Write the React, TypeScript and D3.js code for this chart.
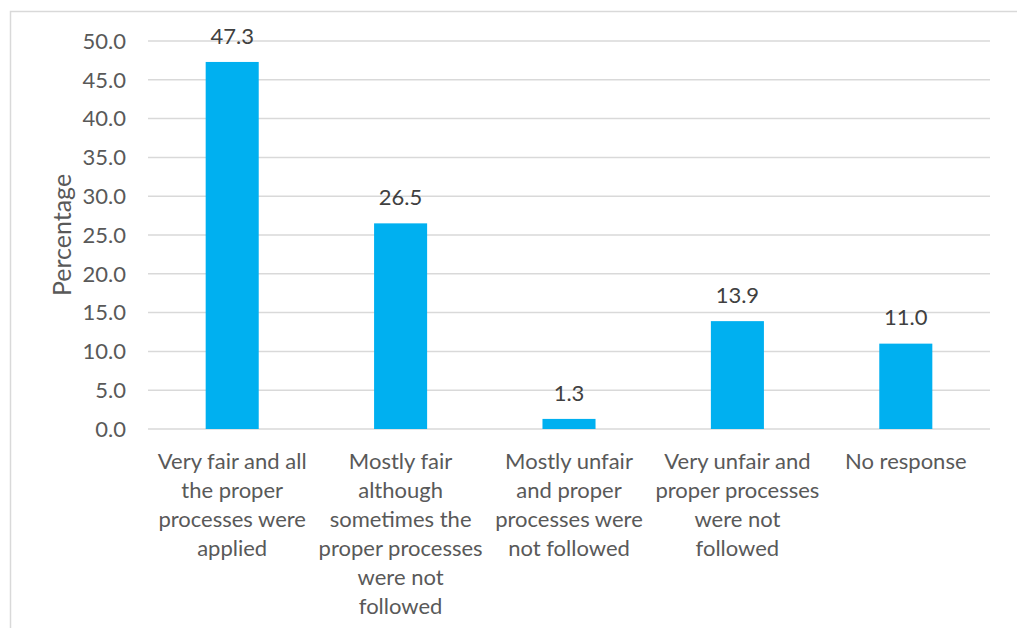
import React from "react";
import * as d3 from "d3";

const categories = [
  "Very fair and all the proper processes were applied",
  "Mostly fair although sometimes the proper processes were not followed",
  "Mostly unfair and proper processes were not followed",
  "Very unfair and proper processes were not followed",
  "No response",
];
const categoryLines = [
  ["Very fair and all", "the proper", "processes were", "applied"],
  ["Mostly fair", "although", "sometimes the", "proper processes", "were not", "followed"],
  ["Mostly unfair", "and proper", "processes were", "not followed"],
  ["Very unfair and", "proper processes", "were not", "followed"],
  ["No response"],
];
const values = [47.3, 26.5, 1.3, 13.9, 11.0];
const yTicks = [0, 5, 10, 15, 20, 25, 30, 35, 40, 45, 50];
const yTitle = "Percentage";

const W = 1017;
const H = 628;
const FONT = "Lato, 'Open Sans', sans-serif";
const FS = 22;

export default function App() {
  const x = d3.scaleBand<string>().domain(categories).range([148, 990]).paddingInner(0.685).paddingOuter(0.3425);
  const y = d3.scaleLinear().domain([0, 50]).range([429, 41]);
  const bw = x.bandwidth();
  return (
    <svg width={W} height={H} style={{ position: "absolute", left: 0, top: 0, background: "#fff" }}>
      <rect x={10.5} y={11.5} width={1100} height={700} fill="#fff" stroke="#D9D9D9" strokeWidth={1.5} />
      {yTicks.map((t) => (
        <g key={t}>
          <line x1={148} x2={990} y1={y(t)} y2={y(t)} stroke="#D9D9D9" strokeWidth={1.5} />
          <text x={126} y={y(t)} dy="0.35em" textAnchor="end" fontFamily={FONT} fontSize={FS} fill="#595959">
            {d3.format(".1f")(t)}
          </text>
        </g>
      ))}
      {categories.map((c, i) => {
        const cx = (x(c) as number) + bw / 2;
        return (
          <g key={c}>
            <rect x={x(c)} y={y(values[i])} width={bw} height={y(0) - y(values[i])} fill="#00B0F0" />
            <text x={cx} y={y(values[i]) - 26} dy="0.35em" textAnchor="middle" fontFamily={FONT} fontSize={FS} fill="#404040">
              {d3.format(".1f")(values[i])}
            </text>
            <text textAnchor="middle" fontFamily={FONT} fontSize={FS} fill="#595959">
              {categoryLines[i].map((ln, j) => (
                <tspan key={j} x={cx} y={461 + j * 29} dy="0.35em">
                  {ln}
                </tspan>
              ))}
            </text>
          </g>
        );
      })}
      <text
        transform={`translate(62,235) rotate(-90)`}
        textAnchor="middle"
        dy="0.35em"
        fontFamily={FONT}
        fontSize={25}
        fill="#595959"
      >
        {yTitle}
      </text>
    </svg>
  );
}
